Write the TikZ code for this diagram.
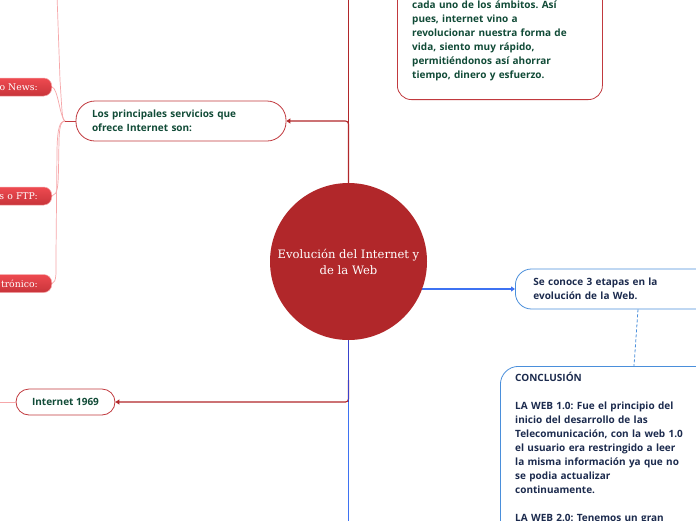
\documentclass[tikz,border=0pt]{standalone}
\usepackage{fontspec}
\newfontfamily\osans{Open Sans}
\newfontfamily\slab{DejaVu Serif}
\usetikzlibrary{arrows.meta,calc}
\definecolor{cred}{HTML}{B1272A}
\definecolor{bred}{HTML}{C1393E}
\definecolor{tgreen}{HTML}{114B37}
\definecolor{lblue}{HTML}{3E72F2}
\definecolor{dblue}{HTML}{3843CC}
\definecolor{bblue}{HTML}{4A8FDB}
\definecolor{tnavy}{HTML}{1C2B4E}
\definecolor{lpink}{HTML}{F6A7A9}
\definecolor{ptop}{HTML}{EE4A50}
\definecolor{pbot}{HTML}{C8343A}
\tikzset{
  redline/.style={draw=cred,line width=1.1pt},
  blueline/.style={draw=lblue,line width=1.3pt},
  pinkline/.style={draw=lpink,line width=0.7pt},
  redtip/.style={-{Triangle[length=4pt,width=5pt]}},
  boxtext/.style={font=\osans\bfseries\frenchspacing\fontsize{10}{14}\selectfont,align=left},
  redbox/.style={draw=bred,line width=0.8pt,fill=white,text=tgreen,boxtext},
  bluebox/.style={draw=bblue,line width=0.8pt,fill=white,text=tnavy,boxtext},
  pill/.style={draw=lpink,line width=0.5pt,top color=ptop,bottom color=pbot,text=white,
    font=\slab\fontsize{9.3}{11}\selectfont,rounded corners=8pt,minimum height=18pt,
    text width=70pt,align=right,inner xsep=14pt,anchor=east}
}
\begin{document}
\begin{tikzpicture}[x=1pt,y=-1pt]
\useasboundingbox (0,0) rectangle (696,520);
\clip (0,0) rectangle (696,520);
\fill[white] (0,0) rectangle (696,520);

% nodes
\node[redbox,rounded corners=14pt,minimum width=205pt,minimum height=140pt,anchor=south west] (topbox) at (397,100) {};
\node[text=tgreen,boxtext,text width=185pt,anchor=base west,inner sep=0pt] (toptext) at (412,8.5)
 {cada uno de los ámbitos. Así\\pues, internet vino a\\revolucionar nuestra forma de\\vida, siento muy rápido,\\permitiéndonos así ahorrar\\tiempo, dinero y esfuerzo.};

\node[redbox,rounded corners=19pt,minimum width=210pt,minimum height=40pt,text width=178pt,inner xsep=16pt] (svc) at (181,121)
 {Los principales servicios que\\ofrece Internet son:};

\node[redbox,rounded corners=13pt,minimum width=99pt,minimum height=26pt,align=center] (i69) at (65.5,402) {Internet 1969};

\node[bluebox,rounded corners=16pt,minimum width=230pt,minimum height=40pt,text width=194pt,inner xsep=18pt,anchor=west] (web) at (515,289)
 {Se conoce 3 etapas en la\\evolución de la Web.};

\node[bluebox,rounded corners=18pt,minimum width=230pt,minimum height=220pt,anchor=north west] (concl) at (500,366) {};
\node[text=tnavy,boxtext,text width=190pt,anchor=base west,inner sep=0pt] (concltext) at (515,381)
 {CONCLUSIÓN\\[14pt]LA WEB 1.0: Fue el principio del\\inicio del desarrollo de las\\Telecomunicación, con la web 1.0\\el usuario era restringido a leer\\la misma información ya que no\\se podia actualizar\\continuamente.\\[14pt]LA WEB 2.0: Tenemos un gran};

\node[pill] (news) at (52,87) {o News:};
\node[pill] (ftp) at (52,196) {s o FTP:};
\node[pill] (mail) at (52,283.5) {trónico:};

\coordinate (j) at (65,121);
\coordinate (toppink) at (57,-5);
\coordinate (topend) at (348.5,-10);
\coordinate (botend) at (348.5,530);
\coordinate (lowjoin) at (348.5,402);
\coordinate (leftend) at (-5,402);

% connectors
\path[pinkline] (toppink) -- (60,80) .. controls (62,110) and (62,121) .. (j);
\path[pinkline] (news.east) .. controls (58,88) and (60,118) .. (j);
\path[pinkline] (ftp.east) .. controls (58,194) and (58,186) .. (58.5,170) -- (59,140) .. controls (59.5,126) and (61,121) .. (j);
\path[pinkline] (mail.east) .. controls (57,282) and (56,272) .. (56,255) -- (57,150) .. controls (57.5,127) and (60,121) .. (j);
\path[draw=bred,line width=0.6pt] (j) -- (svc.west);
\path[pinkline] (i69.west) -- (leftend);

\path[redline] (348.5,262) -- (topend);
\path[redline,redtip,rounded corners=3pt] (348.5,200) |- (svc.east);
\path[redline,redtip,rounded corners=3pt] (348.5,380) |- (i69.east);
\path[draw=dblue,line width=1.3pt] (348.5,300) -- (lowjoin);
\path[blueline] (lowjoin) -- (botend);
\path[blueline,redtip] (348.5,289) -- (web.west);
\path[draw=bblue,line width=0.8pt,dash pattern=on 3pt off 2pt] ($(web.south west)+(123,0)$) -- ($(concl.north west)+(134,0)$);

\node[circle,fill=cred,minimum size=157pt,inner sep=0pt,text=white,align=center,
  font=\slab\fontsize{11.6}{16}\selectfont] (c) at (348.5,261.5)
 {Evolución del Internet y\\de la Web};
\end{tikzpicture}
\end{document}
